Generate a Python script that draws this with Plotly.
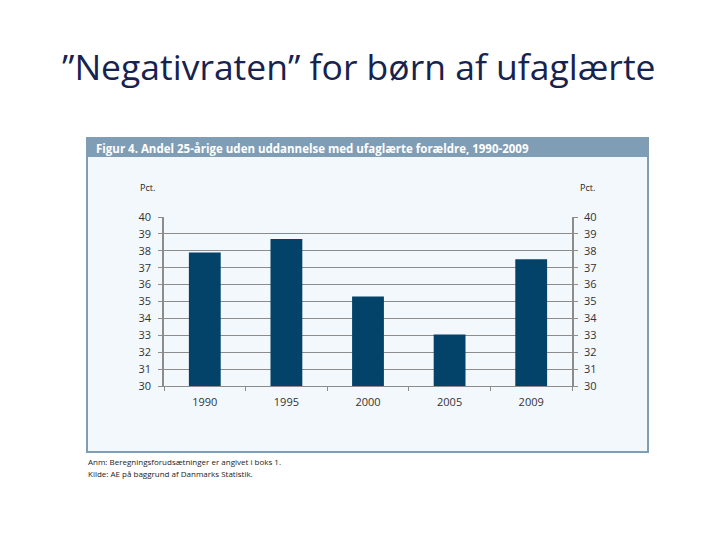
import plotly.graph_objects as go

years = ["1990", "1995", "2000", "2005", "2009"]
values = [37.9, 38.7, 35.3, 33.05, 37.5]
y_ticks = list(range(30, 41))

slide_title = "”Negativraten” for børn af ufaglærte"
fig_header = "Figur 4. Andel 25-årige uden uddannelse med ufaglærte forældre, 1990-2009"
note1 = "Anm: Beregningsforudsætninger er angivet i boks 1."
note2 = "Kilde: AE på baggrund af Danmarks Statistik."

bar_color = "#034369"
bg = "#f3f8fc"
frame = "#7f9db5"
grid = "#8c8c8c"
tick_font = dict(family="Open Sans, sans-serif", size=11, color="#333333")

fig = go.Figure()
fig.add_trace(go.Bar(x=years, y=values, marker=dict(color=bar_color, line=dict(width=0)),
                     width=0.39, yaxis="y", hoverinfo="x+y"))
fig.add_trace(go.Scatter(x=years, y=values, yaxis="y2", mode="markers",
                         marker=dict(opacity=0), hoverinfo="skip", showlegend=False))

W, H = 720, 540
OFF = 8  # page offset of the plot div (body margin)
PL, PR, PT, PB = 164, 572, 217, 386
L, R, T, B = PL - OFF, PR - OFF, PT - OFF, PB - OFF
fig.update_layout(
    width=W, height=H,
    paper_bgcolor="white", plot_bgcolor=bg,
    margin=dict(l=L, r=W - R, t=T, b=H - B, pad=0),
    showlegend=False,
    xaxis=dict(type="category", range=[-0.5, 4.5], showgrid=False,
               showline=True, linecolor=grid, linewidth=1,
               ticks="outside", tickson="boundaries", ticklen=4, tickcolor=grid,
               tickfont=tick_font, ticklabelstandoff=6, fixedrange=True),
    yaxis=dict(range=[30, 40], tickvals=y_ticks, showgrid=True, gridcolor=grid, gridwidth=1,
               showline=True, linecolor=grid, linewidth=1.5, ticks="outside", ticklen=4,
               tickcolor=grid, tickfont=tick_font, zeroline=False, ticklabelstandoff=5),
    yaxis2=dict(range=[30, 40], tickvals=y_ticks, overlaying="y", side="right",
                showgrid=False, showline=True, linecolor=grid, linewidth=1.5,
                ticks="outside", ticklen=4, tickcolor=grid, tickfont=tick_font,
                zeroline=False, ticklabelstandoff=4),
)


def xp(p):
    return (p - PL) / (PR - PL)


def yp(p):
    return (PB - p) / (PB - PT)


box_l, box_r, box_t, box_b, head_b = 87, 648, 138, 452, 157
shapes = [
    dict(type="rect", xref="paper", yref="paper", x0=xp(box_l), x1=xp(box_r),
         y0=yp(box_b), y1=yp(box_t),
         fillcolor=bg, line=dict(color=frame, width=2), layer="below"),
    dict(type="rect", xref="paper", yref="paper", x0=xp(box_l), x1=xp(box_r),
         y0=yp(head_b), y1=yp(box_t),
         fillcolor=frame, line=dict(color=frame, width=0), layer="below"),
]
fig.update_layout(shapes=shapes)

annots = [
    dict(text=slide_title, x=xp(358), y=yp(66), xanchor="center", yanchor="middle",
         font=dict(family="Open Sans, sans-serif", size=35.5, color="#17234f")),
    dict(text="<b>" + fig_header + "</b>", x=xp(94), y=yp(148), xanchor="left", yanchor="middle",
         font=dict(family="Open Sans, sans-serif", size=11.5, color="white")),
    dict(text="Pct.", x=xp(147), y=yp(187), xanchor="center", yanchor="middle",
         font=dict(family="Open Sans, sans-serif", size=9, color="#222222")),
    dict(text="Pct.", x=xp(587), y=yp(187), xanchor="center", yanchor="middle",
         font=dict(family="Open Sans, sans-serif", size=9, color="#222222")),
    dict(text=note1, x=xp(86), y=yp(461), xanchor="left", yanchor="middle",
         font=dict(family="Open Sans, sans-serif", size=8, color="#222222")),
    dict(text=note2, x=xp(86), y=yp(473), xanchor="left", yanchor="middle",
         font=dict(family="Open Sans, sans-serif", size=8, color="#222222")),
]
for a in annots:
    a.update(xref="paper", yref="paper", showarrow=False)
fig.update_layout(annotations=annots)

fig.write_html("out.html")
